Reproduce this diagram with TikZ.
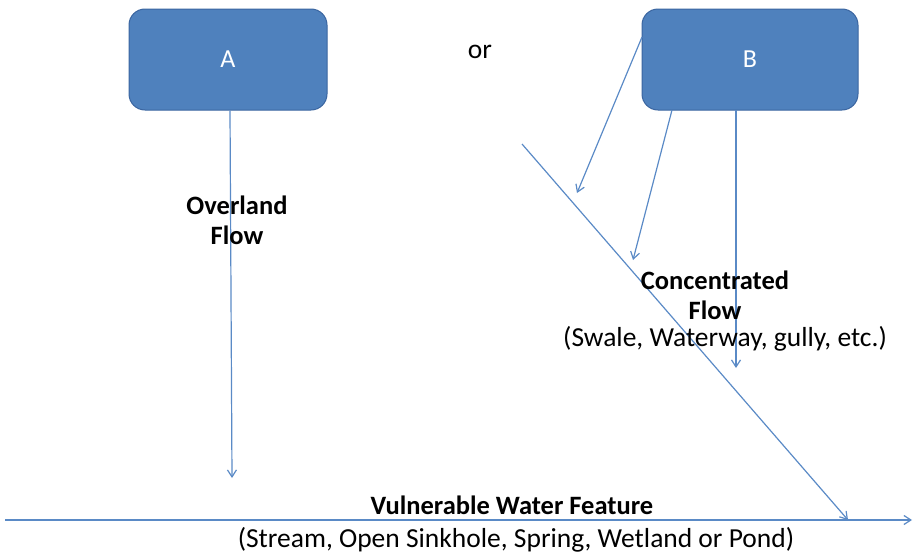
\documentclass[tikz,border=0pt]{standalone}
\usepackage{fontspec}
\setmainfont{Carlito}
\usetikzlibrary{arrows.meta}
\definecolor{boxblue}{HTML}{4F81BD}
\definecolor{boxedge}{HTML}{3A65A0}
\definecolor{flowblue}{HTML}{5A8AC6}
\begin{document}
\begin{tikzpicture}[x=1pt,y=-1pt]
\tikzstyle{zone}=[draw=boxedge,line width=1pt,fill=boxblue,rounded corners=16pt,text=white,minimum height=101pt,font=\fontsize{26}{30}\selectfont]
\tikzstyle{flow}=[draw=flowblue,line width=1.2pt,-{Straight Barb[length=7pt,width=9pt]}]
\tikzstyle{lbl}=[align=center,inner sep=0pt,font=\fontsize{26.5}{30}\selectfont\bfseries]
\tikzstyle{note}=[inner sep=0pt,font=\fontsize{27.5}{30}\selectfont]
\useasboundingbox (0,0) rectangle (913,554);
\node[zone,minimum width=198pt] at (228,59.5) (a) {A};
\node[zone,minimum width=216pt] at (750,59.5) (b) {B};
\node[note] at (480,52) (or) {or};
% flow ends
\coordinate (a1) at (232,478);
\coordinate (b0) at (642,37);
\coordinate (b1) at (577,193);
\coordinate (b2) at (672,110);
\coordinate (b3) at (633,260);
\coordinate (b4) at (736,110);
\coordinate (b5) at (736,368);
\coordinate (d0) at (522,144);
\coordinate (d1) at (848,520);
\coordinate (w0) at (5,520);
\coordinate (w1) at (912,520);
\draw[flow] (a.south) ++(2pt,0) -- (a1);
\draw[flow] (b0) -- (b1);
\draw[flow] (b2) -- (b3);
\draw[flow] (b4) -- (b5);
\draw[flow] (d0) -- (d1);
\draw[flow] (w0) -- (w1);
\node[lbl] at (237,220) (overland) {Overland\\Flow};
\node[lbl] at (715,295) (conc) {Concentrated\\Flow};
\node[note] at (725,339) (swale) {(Swale, Waterway, gully, etc.)};
\node[lbl] at (512,505) (vwf) {Vulnerable Water Feature};
\node[note] at (516,540) (stream) {(Stream, Open Sinkhole, Spring, Wetland or Pond)};
\end{tikzpicture}
\end{document}
